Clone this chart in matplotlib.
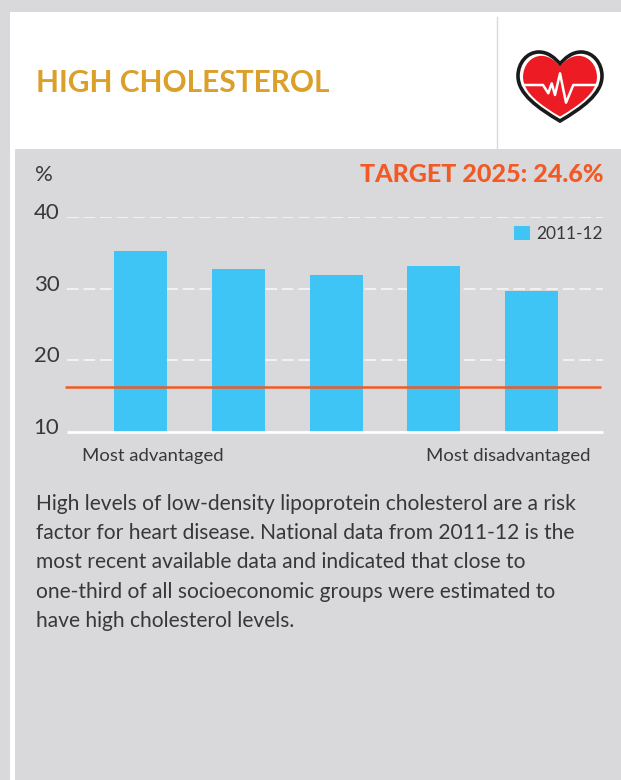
import matplotlib
matplotlib.use('Agg')
import matplotlib.pyplot as plt
from matplotlib.path import Path
from matplotlib.patches import PathPatch, Rectangle
from matplotlib.transforms import ScaledTranslation

plt.rcParams['font.family'] = ['Lato', 'DejaVu Sans']

groups = ['Q1', 'Q2', 'Q3', 'Q4', 'Q5']
values = [35.3, 32.8, 31.9, 33.2, 29.7]
target_line = 16.25
y_ticks = [10, 20, 30, 40]
body_lines = ['High levels of low-density lipoprotein cholesterol are a risk',
              'factor for heart disease. National data from 2011-12 is the',
              'most recent available data and indicated that close to',
              'one-third of all socioeconomic groups were estimated to',
              'have high cholesterol levels.']
body_y = [504, 533, 562, 592, 621]

grey = '#d9d9db'
blue = '#3fc5f5'
orange = '#f15a24'
dark = '#383838'

fig = plt.figure(figsize=(6.21, 7.80), dpi=100, facecolor=grey)

# page furniture, in pixels
bg = fig.add_axes([0, 0, 1, 1])
bg.set_xlim(0, 621)
bg.set_ylim(780, 0)
bg.axis('off')
bg.add_patch(Rectangle((10, 12), 611, 137, fc='white', ec='none'))
bg.add_patch(Rectangle((10, 149), 5, 631, fc='white', ec='none'))
bg.plot([496.5, 496.5], [17, 149], color='#d9d9d9', lw=1)

bg.text(36, 83, 'HIGH CHOLESTEROL', color='#dba029', fontsize=21.5, fontweight='bold', va='center')
bg.text(35.5, 175, '%', color=dark, fontsize=16, va='center')
bg.text(603, 174, 'TARGET 2025: 24.6%', color=orange, fontsize=18, fontweight='black', va='center', ha='right')
bg.text(82, 456, 'Most advantaged', color=dark, fontsize=13.3, va='center')
bg.text(590, 456, 'Most disadvantaged', color=dark, fontsize=13.3, va='center', ha='right')
for line, y in zip(body_lines, body_y):
    bg.text(36, y, line, color=dark, fontsize=15.1, va='center')

# heart icon
def heart(cx, cy, s):
    pts = [(0, -20), (-5, -26), (-12, -32), (-21, -32), (-33, -32), (-42, -21), (-42, -8),
           (-42, 10), (-22, 24), (0, 37), (22, 24), (42, 10), (42, -8),
           (42, -21), (33, -32), (21, -32), (12, -32), (5, -26), (0, -20), (0, -20)]
    codes = [Path.MOVETO] + [Path.CURVE4] * 18 + [Path.CLOSEPOLY]
    return Path([(cx + s * a, cy + s * b) for a, b in pts], codes)

bg.add_patch(PathPatch(heart(560, 84, 1.0), fc='white', ec='#1a1a1a', lw=2.6))
bg.add_patch(PathPatch(heart(560, 84, 0.88), fc='#ed1c24', ec='none'))
bg.plot([523, 543, 548.3, 551.7, 555, 560, 566, 573.3, 597],
        [85, 85, 93.3, 83.3, 95, 73.3, 102.7, 85, 85], color='white', lw=1.8)

# chart
ax = fig.add_axes([67 / 621, (780 - 432) / 780, 536 / 621, 215 / 780])
ax.patch.set_alpha(0)
x = list(range(len(groups)))
ax.set_xlim(-0.752, 4.731)
ax.set_ylim(10, 40)
for t in y_ticks[1:]:
    ax.axhline(t, color='#f2f2f2', lw=1.4, dashes=(6, 2.5), zorder=1)
ax.bar(x, values, width=0.542, color=blue, zorder=2, label='2011-12')
ax.plot([-0.772, 4.71], [target_line, target_line], color=orange, lw=1.8, zorder=3,
        clip_on=False, solid_capstyle='butt')
for s in ['top', 'left', 'right']:
    ax.spines[s].set_visible(False)
ax.spines['bottom'].set_color('white')
ax.spines['bottom'].set_linewidth(2)
ax.spines['bottom'].set_capstyle('butt')
ax.set_xticks([])
ax.set_yticks(y_ticks)
ax.tick_params(axis='y', length=0, pad=5.5, labelsize=16, labelcolor=dark)
# tick labels sit a little above their gridlines
shift = ScaledTranslation(0, 6 / 100, fig.dpi_scale_trans)
for lab in ax.get_yticklabels():
    lab.set_transform(lab.get_transform() + shift)
ax.legend(loc='upper right', bbox_to_anchor=(1.0, 0.96), frameon=False, fontsize=12.5, handlelength=0.92,
          handleheight=0.92, handletextpad=0.35, borderpad=0, borderaxespad=0, labelcolor=dark)

fig.savefig('out.png', dpi=100, facecolor=grey)
